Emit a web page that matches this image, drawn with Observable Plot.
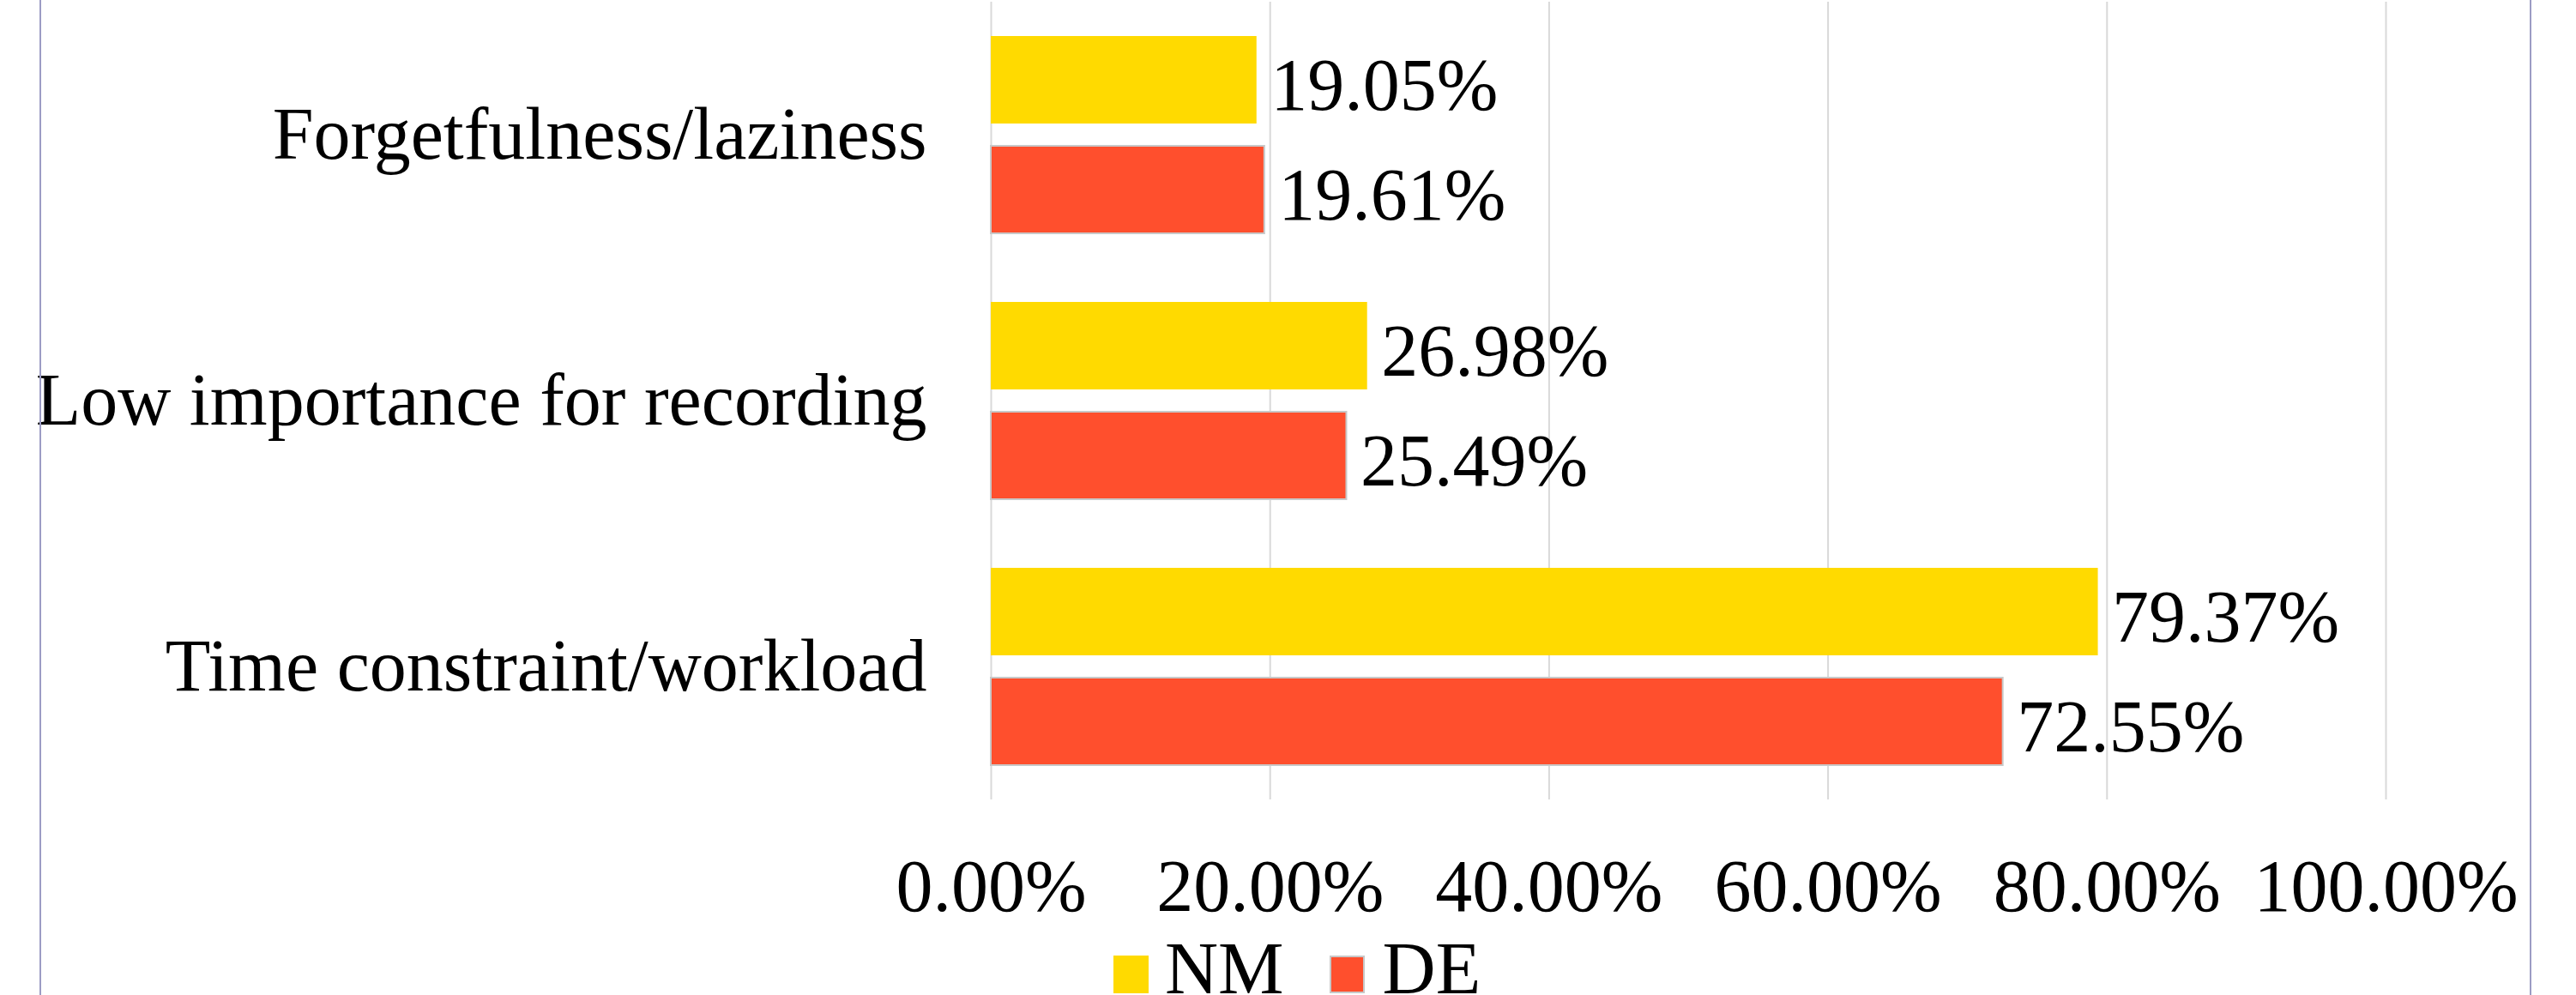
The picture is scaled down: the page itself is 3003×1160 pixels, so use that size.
<!DOCTYPE html>
<html>
<head>
<meta charset="utf-8">
<script src="https://cdn.jsdelivr.net/npm/d3@7"></script>
<script src="https://cdn.jsdelivr.net/npm/@observablehq/plot@0.6"></script>
<style>
  html, body { margin: 0; padding: 0; background: #fff; overflow: hidden; }
  #wrap { position: relative; width: 3003px; height: 1160px; font-family: 'Liberation Serif', 'Times New Roman', serif; }
  #chart svg { display: block; }
  .border { position: absolute; top: 0; width: 2px; height: 1160px; background: #9c9cc4; }
  #legend { position: absolute; left: 1298px; top: 1086px; height: 86px; line-height: 86px; font-size: 86px; white-space: nowrap; color: #000; }
  #legend .sw { display: inline-block; width: 41px; height: 44px; vertical-align: baseline; box-sizing: border-box; }
</style>
</head>
<body>
<div id="wrap">
  <div class="border" style="left:46px"></div>
  <div class="border" style="left:2949px"></div>
  <div id="chart"></div>
  <div id="legend"></div>
</div>
<script>
const categories = ["Forgetfulness/laziness", "Low importance for recording", "Time constraint/workload"];
const seriesNames = ["NM", "DE"];
const nmValues = [19.05, 26.98, 79.37];
const deValues = [19.61, 25.49, 72.55];
const xTicks = [0, 20, 40, 60, 80, 100];
const seriesColors = ["#FFDA00", "#FF4F2D"];

const fmt = d => d.toFixed(2) + "%";
const nmData = categories.map((c, i) => ({category: c, value: nmValues[i]}));
const deData = categories.map((c, i) => ({category: c, value: deValues[i]}));

const chart = Plot.plot({
  width: 3003,
  height: 1086,
  marginLeft: 1155,
  marginRight: 222,
  marginTop: 2,
  marginBottom: 154,
  style: {fontFamily: "'Liberation Serif', 'Times New Roman', serif", fontSize: "86px", background: "transparent", color: "#000"},
  x: {domain: [0, 100], label: null},
  y: {domain: categories, paddingInner: 0.258, paddingOuter: 0.129, label: null},
  marks: [
    Plot.gridX(xTicks, {stroke: "#d9d9d9", strokeOpacity: 1, strokeWidth: 2}),
    Plot.barX(nmData, {x: "value", y: "category", fill: seriesColors[0], insetBottom: 128}),
    Plot.barX(deData, {x: "value", y: "category", fill: seriesColors[1], stroke: "#c8c8c8", strokeWidth: 2, insetTop: 128}),
    Plot.text(nmData, {x: "value", y: "category", text: d => fmt(d.value), textAnchor: "start", dx: 16, dy: -57, fill: "#000"}),
    Plot.text(deData, {x: "value", y: "category", text: d => fmt(d.value), textAnchor: "start", dx: 16, dy: 71, fill: "#000"}),
    Plot.axisX({anchor: "bottom", ticks: xTicks, tickFormat: fmt, tickSize: 0, tickPadding: 68, label: null, fill: "#000"}),
    Plot.axisY({anchor: "left", tickSize: 0, tickPadding: 75, label: null, fill: "#000"})
  ]
});
document.getElementById("chart").appendChild(chart);

const legend = document.getElementById("legend");
const swatchMargins = [[0, 19], [53, 21]];
seriesNames.forEach((name, i) => {
  const sw = document.createElement("span");
  sw.className = "sw";
  sw.style.background = seriesColors[i];
  if (i === 1) sw.style.border = "2px solid #c8c8c8";
  sw.style.marginLeft = swatchMargins[i][0] + "px";
  sw.style.marginRight = swatchMargins[i][1] + "px";
  legend.appendChild(sw);
  const t = document.createElement("span");
  t.textContent = name;
  legend.appendChild(t);
});
</script>
</body>
</html>
